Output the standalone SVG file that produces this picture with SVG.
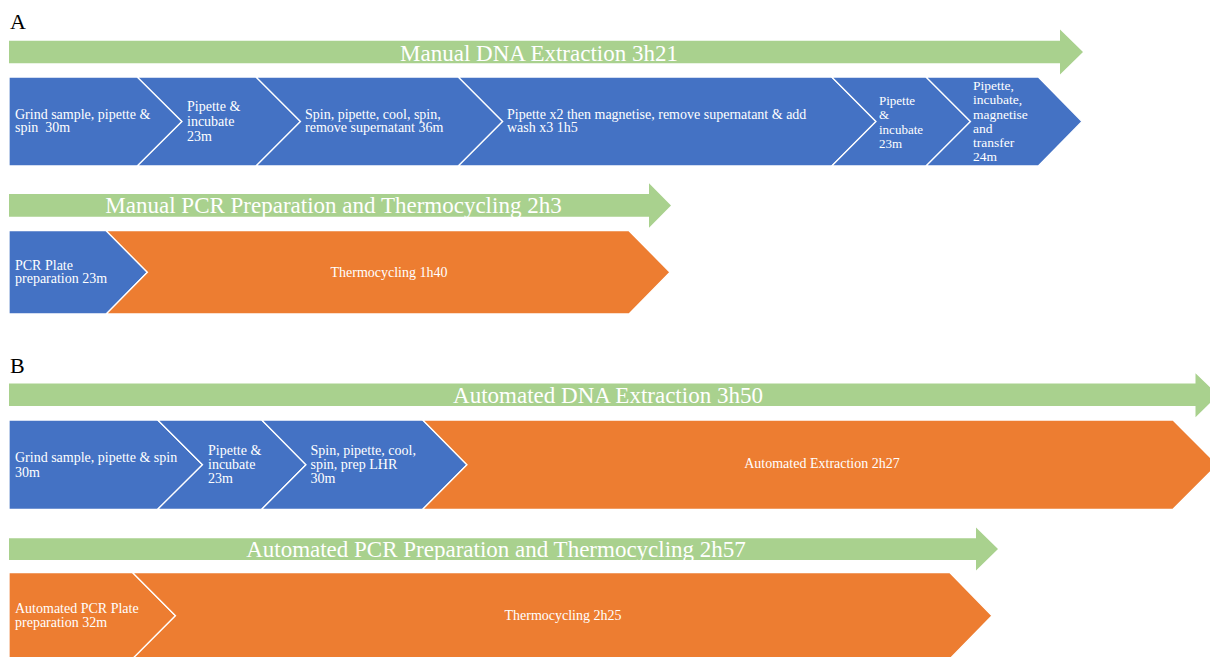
<svg xmlns="http://www.w3.org/2000/svg" width="1210" height="657" viewBox="0 0 1210 657">
<style>
.bg{fill:#ffffff}
.grn{fill:#A9D18E}
.blu{fill:#4472C4;stroke:#ffffff;stroke-width:1.3;stroke-linejoin:miter}
.org{fill:#ED7D31;stroke:#ffffff;stroke-width:1.3;stroke-linejoin:miter}
.ttl{font-family:"Liberation Serif","Times New Roman",serif;font-size:23px;fill:#ffffff;text-anchor:middle}
.lbl{font-family:"Liberation Serif","Times New Roman",serif;font-size:14px;fill:#ffffff}
.sm{font-size:13px}
.sm2{font-size:13.5px}
.mid{text-anchor:middle}
.sec{font-family:"Liberation Serif","Times New Roman",serif;font-size:22px;fill:#000000}
</style>
<rect class="bg" x="0" y="0" width="1210" height="657"/>

<text class="sec" x="10" y="29">A</text>
<text class="sec" x="10" y="373">B</text>

<g id="arrow-manual-dna">
<polygon class="grn" points="9,40.7 1060,40.7 1060,29.5 1083,52 1060,74.5 1060,63.3 9,63.3"/>
<text class="ttl" x="539" y="60.5">Manual DNA Extraction 3h21</text>
</g>

<g id="a1-grind">
<polygon class="blu" points="9,77 137.3,77 182,121.5 137.3,166 9,166"/>
<text class="lbl" x="15" y="119">Grind sample, pipette &amp;</text>
<text class="lbl" x="15" y="131.7">spin&#160; 30m</text>
</g>
<g id="a1-pipette">
<polygon class="blu" points="137.3,77 256,77 300.5,121.5 256,166 137.3,166 182,121.5"/>
<text class="lbl" x="187" y="111">Pipette &amp;</text>
<text class="lbl" x="187" y="126">incubate</text>
<text class="lbl" x="187" y="140.7">23m</text>
</g>
<g id="a1-spin">
<polygon class="blu" points="256,77 458.3,77 502.7,121.5 458.3,166 256,166 300.5,121.5"/>
<text class="lbl" x="305" y="119">Spin, pipette, cool, spin,</text>
<text class="lbl" x="305" y="131.7">remove supernatant 36m</text>
</g>
<g id="a1-magnetise">
<polygon class="blu" points="458.3,77 831.7,77 876,121.5 831.7,166 458.3,166 502.7,121.5"/>
<text class="lbl" x="507" y="119">Pipette x2 then magnetise, remove supernatant &amp; add</text>
<text class="lbl" x="507" y="131.7">wash x3 1h5</text>
</g>
<g id="a1-pipette2">
<polygon class="blu" points="831.7,77 926,77 970.5,121.5 926,166 831.7,166 876,121.5"/>
<text class="lbl sm" x="879" y="105">Pipette</text>
<text class="lbl sm" x="879" y="119.3">&amp;</text>
<text class="lbl sm" x="879" y="133.5">incubate</text>
<text class="lbl sm" x="879" y="148.3">23m</text>
</g>
<g id="a1-transfer">
<polygon class="blu" points="926,77 1038.3,77 1082,121.5 1038.3,166 926,166 970.5,121.5"/>
<text class="lbl sm2" x="973" y="90">Pipette,</text>
<text class="lbl sm2" x="973" y="104">incubate,</text>
<text class="lbl sm2" x="973" y="118.5">magnetise</text>
<text class="lbl sm2" x="973" y="132.7">and</text>
<text class="lbl sm2" x="973" y="146.7">transfer</text>
<text class="lbl sm2" x="973" y="160.5">24m</text>
</g>

<g id="arrow-manual-pcr">
<polygon class="grn" points="9,194 649,194 649,183.3 671,205.5 649,227.7 649,216.7 9,216.7"/>
<text class="ttl" x="333.5" y="213.3">Manual PCR Preparation and Thermocycling 2h3</text>
</g>

<g id="a2-plate">
<polygon class="blu" points="9,230.7 106.2,230.7 147.4,272.3 106.2,314 9,314"/>
<text class="lbl" x="15" y="270">PCR Plate</text>
<text class="lbl" x="15" y="283.3">preparation 23m</text>
</g>
<g id="a2-thermo">
<polygon class="org" points="106.2,230.7 629,230.7 670,272.3 629,314 106.2,314 147.4,272.3"/>
<text class="lbl mid" x="389" y="276.7">Thermocycling 1h40</text>
</g>

<g id="arrow-auto-dna">
<polygon class="grn" points="9,383.5 1195.5,383.5 1195.5,373.3 1218,395 1195.5,417.3 1195.5,406 9,406"/>
<text class="ttl" x="608" y="403.3">Automated DNA Extraction 3h50</text>
</g>

<g id="b1-grind">
<polygon class="blu" points="9,420 157.7,420 202.5,464.7 157.7,509.3 9,509.3"/>
<text class="lbl" x="15" y="461.7">Grind sample, pipette &amp; spin</text>
<text class="lbl" x="15" y="476.7">30m</text>
</g>
<g id="b1-pipette">
<polygon class="blu" points="157.7,420 261.7,420 306,464.7 261.7,509.3 157.7,509.3 202.5,464.7"/>
<text class="lbl" x="208" y="455">Pipette &amp;</text>
<text class="lbl" x="208" y="469">incubate</text>
<text class="lbl" x="208" y="483.3">23m</text>
</g>
<g id="b1-spin">
<polygon class="blu" points="261.7,420 422.7,420 467,464.7 422.7,509.3 261.7,509.3 306,464.7"/>
<text class="lbl" x="310.5" y="455">Spin, pipette, cool,</text>
<text class="lbl" x="310.5" y="469">spin, prep LHR</text>
<text class="lbl" x="310.5" y="483.3">30m</text>
</g>
<g id="b1-auto">
<polygon class="org" points="422.7,420 1173,420 1217.5,464.7 1173,509.3 422.7,509.3 467,464.7"/>
<text class="lbl mid" x="822" y="468.3">Automated Extraction 2h27</text>
</g>

<g id="arrow-auto-pcr">
<polygon class="grn" points="9,538.3 976,538.3 976,527.5 998,549 976,570.5 976,560 9,560"/>
<text class="ttl" x="496" y="557">Automated PCR Preparation and Thermocycling 2h57</text>
</g>

<g id="b2-plate">
<polygon class="org" points="9,572.7 132.7,572.7 175.5,615.7 132.7,658.7 9,658.7"/>
<text class="lbl" x="15" y="613.3">Automated PCR Plate</text>
<text class="lbl" x="15" y="626.7">preparation 32m</text>
</g>
<g id="b2-thermo">
<polygon class="org" points="132.7,572.7 950,572.7 992,615.7 950,658.7 132.7,658.7 175.5,615.7"/>
<text class="lbl mid" x="563" y="620">Thermocycling 2h25</text>
</g>
</svg>
